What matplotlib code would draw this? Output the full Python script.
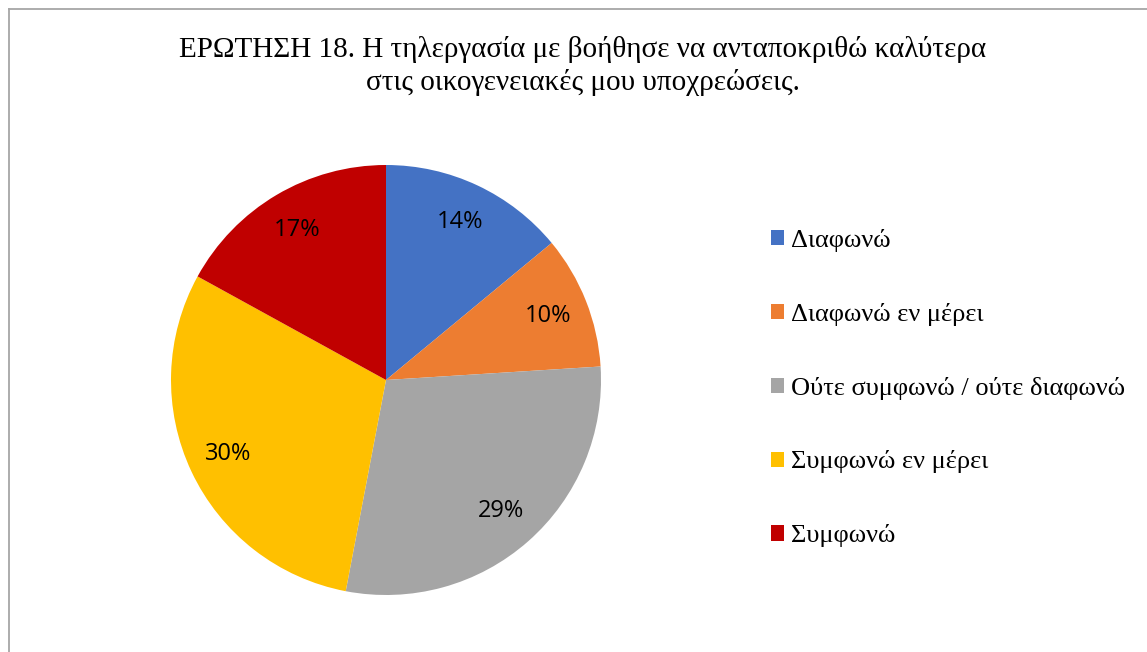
import matplotlib.pyplot as plt
from matplotlib.lines import Line2D
from matplotlib.patches import Patch

labels = ['Διαφωνώ', 'Διαφωνώ εν μέρει', 'Ούτε συμφωνώ / ούτε διαφωνώ',
          'Συμφωνώ εν μέρει', 'Συμφωνώ']
shares = [14, 10, 29, 30, 17]
colors = ['#4472c4', '#ed7d31', '#a5a5a5', '#ffc000', '#c00000']

title = ('ΕΡΩΤΗΣΗ 18. Η τηλεργασία με βοήθησε να ανταποκριθώ καλύτερα\n'
         'στις οικογενειακές μου υποχρεώσεις.')

W, H = 1147, 652
fig = plt.figure(figsize=(W / 100, H / 100), dpi=100, facecolor='white')

# frame on the left and top edges
fig.add_artist(Line2D([8.5 / W, 8.5 / W], [0, 1 - 8.5 / H], transform=fig.transFigure,
                      color='#a6a6a6', lw=1.3))
fig.add_artist(Line2D([8.5 / W, 1], [1 - 8.5 / H, 1 - 8.5 / H], transform=fig.transFigure,
                      color='#a6a6a6', lw=1.3))

fig.text(583 / W, 1 - 66 / H, title, ha='center', va='center', fontsize=21,
         family='Liberation Serif', linespacing=1.33)

cx, cy, r = 386, 380, 215
ax = fig.add_axes([(cx - r) / W, (H - cy - r) / H, 2 * r / W, 2 * r / H])
wedges, texts, autotexts = ax.pie(shares, colors=colors, startangle=90, counterclock=False,
                                  radius=1, autopct='%1.0f%%', pctdistance=0.81,
                                  textprops={'fontsize': 17, 'family': 'Open Sans'})
ax.set_xlim(-1, 1)
ax.set_ylim(-1, 1)
ax.set_aspect('equal')
ax.axis('off')

handles = [Patch(facecolor=c, edgecolor='none') for c in colors]
fig.legend(handles, labels, loc='center left', bbox_to_anchor=(747 / W, 1 - 388 / H),
           frameon=False, prop={'family': 'Liberation Serif', 'size': 19},
           handlelength=0.5, handleheight=0.5, handletextpad=0.27, labelspacing=1.93)

plt.savefig('out.png', dpi=100, facecolor='white')
